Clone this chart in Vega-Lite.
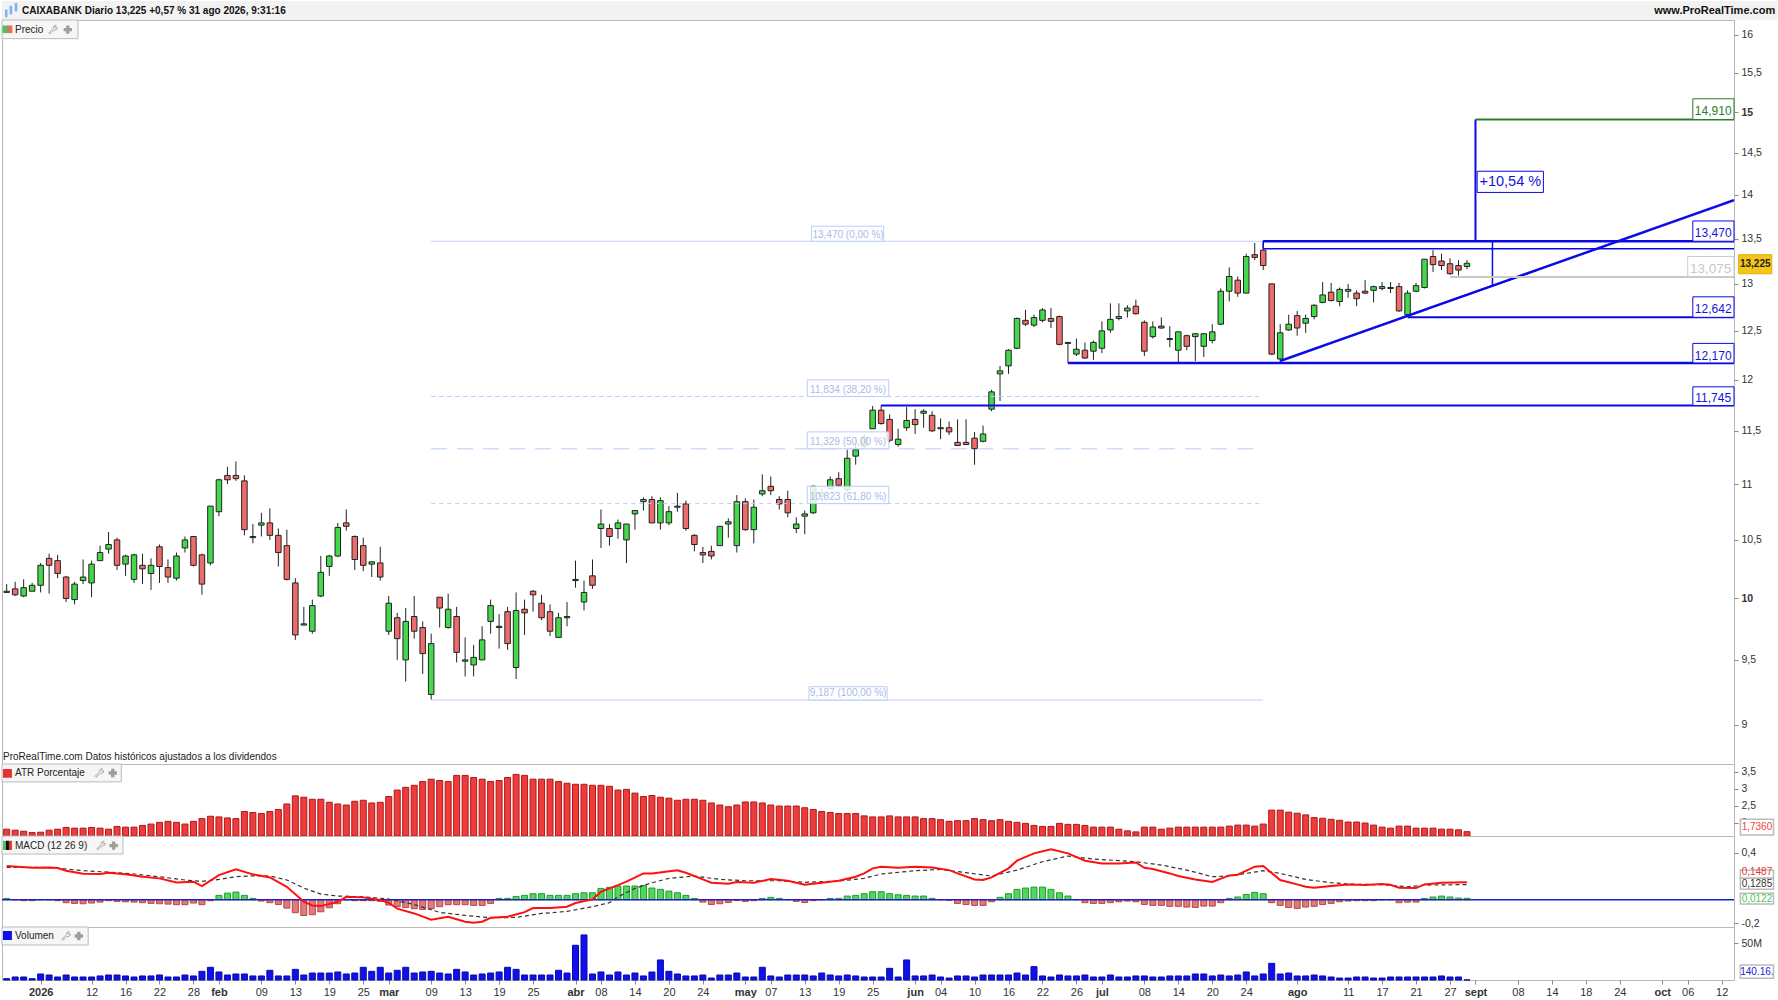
{"$schema":"https://vega.github.io/schema/vega-lite/v6.json","padding":0,"background":"white","spacing":0,"bounds":"flush","resolve":{"scale":{"color":"independent","fill":"independent","stroke":"independent","size":"independent","strokeWidth":"independent","strokeDash":"independent"}},
"config":{"font":"Liberation Sans","scale":{"continuousPadding":0},"view":{"stroke":"#b8b8b8"},"axis":{"grid":false,"domain":false,"tickColor":"#888888","tickSize":4,"labelColor":"#333333","labelFontSize":10.5,"labelPadding":3,"labelFont":"Liberation Sans","labelOverlap":false,"labelBound":false,"labelFlush":false}},
"datasets":{"bars":[
{"i":0,"o":10.05,"h":10.12,"l":10.05,"c":10.06,"a":1.81,"m":0.011,"v":1.8},
{"i":1,"o":10.08,"h":10.14,"l":10.02,"c":10.03,"a":1.78,"m":0,"v":4.1},
{"i":2,"o":10.02,"h":10.16,"l":10.01,"c":10.09,"a":1.75,"m":-0.008,"v":4.1},
{"i":3,"o":10.06,"h":10.13,"l":10.06,"c":10.11,"a":1.71,"m":-0.008,"v":1.8},
{"i":4,"o":10.11,"h":10.30,"l":10.05,"c":10.28,"a":1.72,"m":0,"v":8.2},
{"i":5,"o":10.34,"h":10.38,"l":10.04,"c":10.28,"a":1.78,"m":0,"v":6.8},
{"i":6,"o":10.32,"h":10.37,"l":10.17,"c":10.21,"a":1.81,"m":-0.008,"v":4.1},
{"i":7,"o":10.18,"h":10.19,"l":9.97,"c":10.00,"a":1.86,"m":-0.025,"v":6.8},
{"i":8,"o":9.99,"h":10.14,"l":9.95,"c":10.12,"a":1.84,"m":-0.031,"v":4.1},
{"i":9,"o":10.15,"h":10.33,"l":10.12,"c":10.18,"a":1.84,"m":-0.034,"v":4.1},
{"i":10,"o":10.13,"h":10.32,"l":10.01,"c":10.29,"a":1.86,"m":-0.028,"v":4.1},
{"i":11,"o":10.32,"h":10.45,"l":10.32,"c":10.39,"a":1.84,"m":-0.020,"v":5.5},
{"i":12,"o":10.42,"h":10.57,"l":10.38,"c":10.46,"a":1.81,"m":-0.008,"v":6.8},
{"i":13,"o":10.50,"h":10.52,"l":10.24,"c":10.28,"a":1.89,"m":-0.014,"v":6.8},
{"i":14,"o":10.29,"h":10.37,"l":10.19,"c":10.36,"a":1.87,"m":-0.017,"v":5.5},
{"i":15,"o":10.16,"h":10.38,"l":10.13,"c":10.37,"a":1.87,"m":-0.020,"v":4.1},
{"i":16,"o":10.28,"h":10.38,"l":10.12,"c":10.25,"a":1.92,"m":-0.025,"v":5.5},
{"i":17,"o":10.21,"h":10.34,"l":10.07,"c":10.28,"a":1.96,"m":-0.031,"v":5.5},
{"i":18,"o":10.44,"h":10.46,"l":10.13,"c":10.27,"a":2.01,"m":-0.034,"v":6.8},
{"i":19,"o":10.26,"h":10.33,"l":10.13,"c":10.18,"a":2.04,"m":-0.037,"v":4.1},
{"i":20,"o":10.17,"h":10.39,"l":10.15,"c":10.36,"a":2.01,"m":-0.042,"v":4.1},
{"i":21,"o":10.43,"h":10.53,"l":10.39,"c":10.50,"a":1.96,"m":-0.042,"v":6.8},
{"i":22,"o":10.53,"h":10.53,"l":10.27,"c":10.28,"a":2.04,"m":-0.028,"v":5.5},
{"i":23,"o":10.37,"h":10.38,"l":10.03,"c":10.12,"a":2.12,"m":-0.042,"v":11.8},
{"i":24,"o":10.30,"h":10.80,"l":10.28,"c":10.80,"a":2.19,"m":-0.008,"v":17.3},
{"i":25,"o":10.75,"h":11.05,"l":10.71,"c":11.04,"a":2.17,"m":0.037,"v":10.9},
{"i":26,"o":11.08,"h":11.16,"l":11.00,"c":11.04,"a":2.14,"m":0.056,"v":6.8},
{"i":27,"o":11.08,"h":11.21,"l":11.03,"c":11.05,"a":2.12,"m":0.065,"v":8.2},
{"i":28,"o":11.03,"h":11.08,"l":10.54,"c":10.59,"a":2.33,"m":0.037,"v":8.2},
{"i":29,"o":10.52,"h":10.64,"l":10.47,"c":10.53,"a":2.30,"m":0.011,"v":5.5},
{"i":30,"o":10.63,"h":10.74,"l":10.53,"c":10.65,"a":2.27,"m":-0.011,"v":5.5},
{"i":31,"o":10.65,"h":10.78,"l":10.50,"c":10.54,"a":2.33,"m":-0.025,"v":13.2},
{"i":32,"o":10.54,"h":10.60,"l":10.27,"c":10.39,"a":2.39,"m":-0.040,"v":5.5},
{"i":33,"o":10.45,"h":10.59,"l":10.15,"c":10.16,"a":2.55,"m":-0.071,"v":5.5},
{"i":34,"o":10.13,"h":10.17,"l":9.66,"c":9.70,"a":2.79,"m":-0.110,"v":14.5},
{"i":35,"o":9.78,"h":9.93,"l":9.78,"c":9.79,"a":2.75,"m":-0.133,"v":6.8},
{"i":36,"o":9.73,"h":9.99,"l":9.71,"c":9.94,"a":2.69,"m":-0.127,"v":9.5},
{"i":37,"o":10.02,"h":10.36,"l":10.01,"c":10.22,"a":2.69,"m":-0.102,"v":9.5},
{"i":38,"o":10.27,"h":10.37,"l":10.19,"c":10.36,"a":2.60,"m":-0.068,"v":9.5},
{"i":39,"o":10.36,"h":10.65,"l":10.35,"c":10.61,"a":2.55,"m":-0.034,"v":10.9},
{"i":40,"o":10.65,"h":10.77,"l":10.58,"c":10.62,"a":2.52,"m":0,"v":8.2},
{"i":41,"o":10.53,"h":10.54,"l":10.24,"c":10.33,"a":2.63,"m":-0.008,"v":9.5},
{"i":42,"o":10.45,"h":10.52,"l":10.23,"c":10.28,"a":2.66,"m":-0.008,"v":17.3},
{"i":43,"o":10.29,"h":10.31,"l":10.18,"c":10.31,"a":2.58,"m":-0.008,"v":11.8},
{"i":44,"o":10.30,"h":10.44,"l":10.15,"c":10.18,"a":2.60,"m":-0.014,"v":17.3},
{"i":45,"o":9.73,"h":10.02,"l":9.70,"c":9.96,"a":2.77,"m":-0.045,"v":9.5},
{"i":46,"o":9.84,"h":9.88,"l":9.50,"c":9.67,"a":2.96,"m":-0.059,"v":13.2},
{"i":47,"o":9.50,"h":9.92,"l":9.33,"c":9.81,"a":3.04,"m":-0.065,"v":17.3},
{"i":48,"o":9.85,"h":10.02,"l":9.67,"c":9.73,"a":3.10,"m":-0.076,"v":9.5},
{"i":49,"o":9.76,"h":9.81,"l":9.39,"c":9.55,"a":3.21,"m":-0.082,"v":10.9},
{"i":50,"o":9.23,"h":9.71,"l":9.19,"c":9.63,"a":3.28,"m":-0.076,"v":11.8},
{"i":51,"o":10.01,"h":10.01,"l":9.76,"c":9.92,"a":3.24,"m":-0.059,"v":9.5},
{"i":52,"o":9.76,"h":10.04,"l":9.75,"c":9.91,"a":3.21,"m":-0.042,"v":8.2},
{"i":53,"o":9.85,"h":9.93,"l":9.48,"c":9.56,"a":3.39,"m":-0.042,"v":14.5},
{"i":54,"o":9.49,"h":9.68,"l":9.37,"c":9.50,"a":3.39,"m":-0.042,"v":10.9},
{"i":55,"o":9.46,"h":9.62,"l":9.37,"c":9.52,"a":3.33,"m":-0.048,"v":6.8},
{"i":56,"o":9.50,"h":9.77,"l":9.50,"c":9.66,"a":3.28,"m":-0.048,"v":8.2},
{"i":57,"o":9.81,"h":9.99,"l":9.71,"c":9.94,"a":3.21,"m":-0.031,"v":9.5},
{"i":58,"o":9.76,"h":9.87,"l":9.59,"c":9.77,"a":3.24,"m":0.011,"v":10.9},
{"i":59,"o":9.89,"h":9.93,"l":9.58,"c":9.63,"a":3.33,"m":0.011,"v":17.3},
{"i":60,"o":9.44,"h":10.05,"l":9.35,"c":9.90,"a":3.42,"m":0.028,"v":14.5},
{"i":61,"o":9.91,"h":9.99,"l":9.70,"c":9.88,"a":3.39,"m":0.037,"v":6.8},
{"i":62,"o":10.06,"h":10.07,"l":9.89,"c":10.03,"a":3.28,"m":0.051,"v":6.8},
{"i":63,"o":9.96,"h":10.03,"l":9.82,"c":9.84,"a":3.28,"m":0.051,"v":6.8},
{"i":64,"o":9.89,"h":9.95,"l":9.69,"c":9.73,"a":3.28,"m":0.037,"v":6.8},
{"i":65,"o":9.68,"h":9.88,"l":9.68,"c":9.84,"a":3.21,"m":0.037,"v":13.2},
{"i":66,"o":9.84,"h":9.97,"l":9.77,"c":9.85,"a":3.16,"m":0.037,"v":9.5},
{"i":67,"o":10.15,"h":10.32,"l":10.09,"c":10.16,"a":3.13,"m":0.051,"v":47.3},
{"i":68,"o":9.97,"h":10.15,"l":9.90,"c":10.05,"a":3.13,"m":0.059,"v":61.4},
{"i":69,"o":10.19,"h":10.33,"l":10.08,"c":10.11,"a":3.10,"m":0.059,"v":8.2},
{"i":70,"o":10.60,"h":10.77,"l":10.43,"c":10.64,"a":3.10,"m":0.096,"v":10.9},
{"i":71,"o":10.60,"h":10.64,"l":10.45,"c":10.53,"a":3.07,"m":0.105,"v":6.8},
{"i":72,"o":10.60,"h":10.68,"l":10.51,"c":10.65,"a":2.96,"m":0.116,"v":10.9},
{"i":73,"o":10.50,"h":10.64,"l":10.30,"c":10.64,"a":2.98,"m":0.116,"v":6.8},
{"i":74,"o":10.73,"h":10.76,"l":10.59,"c":10.76,"a":2.87,"m":0.116,"v":9.5},
{"i":75,"o":10.84,"h":10.88,"l":10.76,"c":10.86,"a":2.77,"m":0.121,"v":5.5},
{"i":76,"o":10.86,"h":10.89,"l":10.65,"c":10.65,"a":2.80,"m":0.099,"v":10.9},
{"i":77,"o":10.65,"h":10.88,"l":10.59,"c":10.85,"a":2.75,"m":0.088,"v":27.3},
{"i":78,"o":10.65,"h":10.80,"l":10.63,"c":10.75,"a":2.72,"m":0.073,"v":11.8},
{"i":79,"o":10.79,"h":10.92,"l":10.75,"c":10.80,"a":2.66,"m":0.059,"v":8.2},
{"i":80,"o":10.82,"h":10.85,"l":10.58,"c":10.60,"a":2.69,"m":0.037,"v":5.5},
{"i":81,"o":10.54,"h":10.55,"l":10.40,"c":10.46,"a":2.69,"m":0.011,"v":5.5},
{"i":82,"o":10.39,"h":10.44,"l":10.30,"c":10.37,"a":2.66,"m":-0.020,"v":6.8},
{"i":83,"o":10.40,"h":10.45,"l":10.33,"c":10.36,"a":2.58,"m":-0.040,"v":2.7},
{"i":84,"o":10.45,"h":10.62,"l":10.45,"c":10.62,"a":2.52,"m":-0.034,"v":6.8},
{"i":85,"o":10.64,"h":10.69,"l":10.52,"c":10.66,"a":2.47,"m":-0.023,"v":6.8},
{"i":86,"o":10.45,"h":10.90,"l":10.39,"c":10.84,"a":2.52,"m":-0.006,"v":9.5},
{"i":87,"o":10.84,"h":10.87,"l":10.58,"c":10.59,"a":2.61,"m":-0.014,"v":4.1},
{"i":88,"o":10.59,"h":10.86,"l":10.47,"c":10.79,"a":2.61,"m":-0.008,"v":4.1},
{"i":89,"o":10.91,"h":11.09,"l":10.89,"c":10.94,"a":2.58,"m":0.011,"v":17.3},
{"i":90,"o":10.98,"h":11.07,"l":10.90,"c":10.94,"a":2.52,"m":0.020,"v":5.5},
{"i":91,"o":10.86,"h":10.89,"l":10.77,"c":10.82,"a":2.49,"m":0.011,"v":4.1},
{"i":92,"o":10.86,"h":10.94,"l":10.70,"c":10.74,"a":2.49,"m":0,"v":6.8},
{"i":93,"o":10.60,"h":10.70,"l":10.56,"c":10.64,"a":2.49,"m":-0.014,"v":6.8},
{"i":94,"o":10.71,"h":10.76,"l":10.55,"c":10.73,"a":2.44,"m":-0.023,"v":6.8},
{"i":95,"o":10.74,"h":10.99,"l":10.73,"c":10.98,"a":2.39,"m":-0.008,"v":5.5},
{"i":96,"o":10.89,"h":10.96,"l":10.85,"c":10.92,"a":2.33,"m":0,"v":9.5},
{"i":97,"o":10.96,"h":11.07,"l":10.95,"c":11.04,"a":2.30,"m":0.011,"v":6.8},
{"i":98,"o":11.05,"h":11.11,"l":10.97,"c":10.99,"a":2.27,"m":0.011,"v":5.5},
{"i":99,"o":10.95,"h":11.32,"l":10.93,"c":11.24,"a":2.27,"m":0.031,"v":6.8},
{"i":100,"o":11.26,"h":11.44,"l":11.18,"c":11.32,"a":2.27,"m":0.037,"v":5.5},
{"i":101,"o":11.35,"h":11.47,"l":11.33,"c":11.44,"a":2.20,"m":0.051,"v":4.1},
{"i":102,"o":11.52,"h":11.74,"l":11.52,"c":11.70,"a":2.17,"m":0.068,"v":4.1},
{"i":103,"o":11.70,"h":11.75,"l":11.56,"c":11.57,"a":2.17,"m":0.068,"v":4.1},
{"i":104,"o":11.61,"h":11.66,"l":11.39,"c":11.41,"a":2.20,"m":0.051,"v":15.9},
{"i":105,"o":11.37,"h":11.52,"l":11.35,"c":11.42,"a":2.17,"m":0.042,"v":4.1},
{"i":106,"o":11.53,"h":11.73,"l":11.50,"c":11.60,"a":2.17,"m":0.037,"v":27.3},
{"i":107,"o":11.61,"h":11.71,"l":11.47,"c":11.56,"a":2.17,"m":0.031,"v":5.5},
{"i":108,"o":11.67,"h":11.71,"l":11.53,"c":11.69,"a":2.12,"m":0.031,"v":5.5},
{"i":109,"o":11.65,"h":11.69,"l":11.49,"c":11.50,"a":2.12,"m":0.011,"v":6.8},
{"i":110,"o":11.52,"h":11.62,"l":11.42,"c":11.53,"a":2.09,"m":0,"v":4.1},
{"i":111,"o":11.53,"h":11.59,"l":11.46,"c":11.49,"a":2.04,"m":-0.006,"v":2.7},
{"i":112,"o":11.39,"h":11.61,"l":11.36,"c":11.36,"a":2.06,"m":-0.031,"v":5.5},
{"i":113,"o":11.39,"h":11.61,"l":11.37,"c":11.37,"a":2.06,"m":-0.040,"v":5.5},
{"i":114,"o":11.43,"h":11.49,"l":11.18,"c":11.33,"a":2.12,"m":-0.048,"v":4.1},
{"i":115,"o":11.40,"h":11.55,"l":11.39,"c":11.47,"a":2.09,"m":-0.048,"v":6.8},
{"i":116,"o":11.71,"h":11.90,"l":11.69,"c":11.88,"a":2.06,"m":-0.017,"v":6.8},
{"i":117,"o":12.06,"h":12.14,"l":11.79,"c":12.09,"a":2.09,"m":0.020,"v":6.8},
{"i":118,"o":12.14,"h":12.31,"l":12.06,"c":12.30,"a":2.04,"m":0.051,"v":6.8},
{"i":119,"o":12.32,"h":12.64,"l":12.31,"c":12.63,"a":2.01,"m":0.088,"v":9.5},
{"i":120,"o":12.61,"h":12.72,"l":12.55,"c":12.57,"a":1.98,"m":0.099,"v":6.8},
{"i":121,"o":12.56,"h":12.67,"l":12.54,"c":12.64,"a":1.92,"m":0.107,"v":18.2},
{"i":122,"o":12.61,"h":12.74,"l":12.59,"c":12.72,"a":1.89,"m":0.107,"v":5.5},
{"i":123,"o":12.63,"h":12.74,"l":12.53,"c":12.60,"a":1.89,"m":0.088,"v":4.1},
{"i":124,"o":12.65,"h":12.66,"l":12.35,"c":12.36,"a":1.98,"m":0.059,"v":6.8},
{"i":125,"o":12.37,"h":12.38,"l":12.17,"c":12.38,"a":1.95,"m":0.031,"v":5.5},
{"i":126,"o":12.26,"h":12.42,"l":12.24,"c":12.31,"a":1.95,"m":0,"v":5.5},
{"i":127,"o":12.30,"h":12.38,"l":12.21,"c":12.22,"a":1.92,"m":-0.025,"v":6.8},
{"i":128,"o":12.29,"h":12.40,"l":12.20,"c":12.38,"a":1.87,"m":-0.031,"v":4.1},
{"i":129,"o":12.32,"h":12.60,"l":12.27,"c":12.50,"a":1.87,"m":-0.031,"v":4.1},
{"i":130,"o":12.51,"h":12.79,"l":12.48,"c":12.62,"a":1.87,"m":-0.025,"v":6.8},
{"i":131,"o":12.63,"h":12.79,"l":12.61,"c":12.65,"a":1.81,"m":-0.017,"v":4.1},
{"i":132,"o":12.71,"h":12.77,"l":12.64,"c":12.74,"a":1.76,"m":-0.011,"v":4.1},
{"i":133,"o":12.76,"h":12.83,"l":12.67,"c":12.68,"a":1.73,"m":-0.017,"v":5.5},
{"i":134,"o":12.59,"h":12.61,"l":12.24,"c":12.29,"a":1.87,"m":-0.040,"v":5.5},
{"i":135,"o":12.44,"h":12.60,"l":12.42,"c":12.54,"a":1.87,"m":-0.048,"v":4.1},
{"i":136,"o":12.55,"h":12.64,"l":12.52,"c":12.53,"a":1.81,"m":-0.048,"v":4.1},
{"i":137,"o":12.41,"h":12.55,"l":12.33,"c":12.42,"a":1.84,"m":-0.056,"v":5.5},
{"i":138,"o":12.30,"h":12.49,"l":12.16,"c":12.49,"a":1.87,"m":-0.056,"v":5.5},
{"i":139,"o":12.45,"h":12.46,"l":12.30,"c":12.34,"a":1.87,"m":-0.062,"v":5.5},
{"i":140,"o":12.44,"h":12.47,"l":12.19,"c":12.47,"a":1.87,"m":-0.065,"v":8.2},
{"i":141,"o":12.34,"h":12.47,"l":12.23,"c":12.47,"a":1.87,"m":-0.054,"v":8.2},
{"i":142,"o":12.40,"h":12.57,"l":12.37,"c":12.49,"a":1.87,"m":-0.054,"v":5.5},
{"i":143,"o":12.57,"h":12.95,"l":12.56,"c":12.92,"a":1.87,"m":-0.025,"v":6.8},
{"i":144,"o":12.92,"h":13.18,"l":12.81,"c":13.08,"a":1.90,"m":0.011,"v":5.5},
{"i":145,"o":13.04,"h":13.08,"l":12.86,"c":12.90,"a":1.93,"m":0.023,"v":6.8},
{"i":146,"o":12.90,"h":13.33,"l":12.90,"c":13.30,"a":1.93,"m":0.045,"v":10.9},
{"i":147,"o":13.32,"h":13.45,"l":13.26,"c":13.29,"a":1.90,"m":0.062,"v":5.5},
{"i":148,"o":13.37,"h":13.48,"l":13.15,"c":13.20,"a":1.96,"m":0.051,"v":8.2},
{"i":149,"o":13.00,"h":13.00,"l":12.25,"c":12.26,"a":2.37,"m":-0.025,"v":22.7},
{"i":150,"o":12.21,"h":12.57,"l":12.18,"c":12.48,"a":2.37,"m":-0.048,"v":8.2},
{"i":151,"o":12.51,"h":12.67,"l":12.50,"c":12.57,"a":2.31,"m":-0.065,"v":9.5},
{"i":152,"o":12.66,"h":12.71,"l":12.45,"c":12.53,"a":2.28,"m":-0.073,"v":5.5},
{"i":153,"o":12.58,"h":12.67,"l":12.48,"c":12.63,"a":2.23,"m":-0.062,"v":5.5},
{"i":154,"o":12.65,"h":12.78,"l":12.62,"c":12.77,"a":2.15,"m":-0.056,"v":6.8},
{"i":155,"o":12.80,"h":13.02,"l":12.79,"c":12.88,"a":2.13,"m":-0.040,"v":5.5},
{"i":156,"o":12.91,"h":13.01,"l":12.81,"c":12.82,"a":2.10,"m":-0.031,"v":4.1},
{"i":157,"o":12.81,"h":12.96,"l":12.76,"c":12.94,"a":2.07,"m":-0.017,"v":2.7},
{"i":158,"o":12.92,"h":13.00,"l":12.85,"c":12.94,"a":2.02,"m":-0.011,"v":2.7},
{"i":159,"o":12.90,"h":12.93,"l":12.76,"c":12.84,"a":2.02,"m":-0.008,"v":4.1},
{"i":160,"o":12.92,"h":13.04,"l":12.89,"c":12.90,"a":1.99,"m":-0.008,"v":4.1},
{"i":161,"o":12.93,"h":12.98,"l":12.80,"c":12.97,"a":1.93,"m":-0.008,"v":2.7},
{"i":162,"o":12.95,"h":13.02,"l":12.93,"c":12.97,"a":1.87,"m":0,"v":2.7},
{"i":163,"o":12.95,"h":13.02,"l":12.90,"c":12.96,"a":1.84,"m":0,"v":4.1},
{"i":164,"o":12.97,"h":13.01,"l":12.70,"c":12.71,"a":1.90,"m":-0.025,"v":4.1},
{"i":165,"o":12.67,"h":12.93,"l":12.65,"c":12.90,"a":1.90,"m":-0.020,"v":4.1},
{"i":166,"o":12.92,"h":13.01,"l":12.91,"c":12.98,"a":1.84,"m":-0.020,"v":4.1},
{"i":167,"o":12.96,"h":13.27,"l":12.95,"c":13.27,"a":1.84,"m":0.011,"v":4.1},
{"i":168,"o":13.30,"h":13.37,"l":13.13,"c":13.21,"a":1.84,"m":0.023,"v":4.1},
{"i":169,"o":13.25,"h":13.33,"l":13.15,"c":13.20,"a":1.81,"m":0.031,"v":5.5},
{"i":170,"o":13.22,"h":13.28,"l":13.10,"c":13.11,"a":1.81,"m":0.023,"v":4.1},
{"i":171,"o":13.20,"h":13.26,"l":13.09,"c":13.15,"a":1.79,"m":0.014,"v":4.1},
{"i":172,"o":13.19,"h":13.26,"l":13.16,"c":13.225,"a":1.736,"m":0.0122,"v":0.14}
],
"macd":[{"i":0,"y":0.285},{"i":3,"y":0.271},{"i":5,"y":0.274},{"i":6,"y":0.268},{"i":7,"y":0.246},{"i":9,"y":0.220},{"i":11,"y":0.218},{"i":12,"y":0.229},{"i":14,"y":0.215},{"i":16,"y":0.195},{"i":18,"y":0.181},{"i":20,"y":0.147},{"i":22,"y":0.153},{"i":23,"y":0.116},{"i":25,"y":0.209},{"i":27,"y":0.257},{"i":29,"y":0.215},{"i":31,"y":0.189},{"i":33,"y":0.110},{"i":35,"y":-0.017},{"i":36,"y":-0.048},{"i":37,"y":-0.054},{"i":39,"y":-0.017},{"i":40,"y":0.025},{"i":42,"y":0.020},{"i":44,"y":-0.003},{"i":45,"y":-0.025},{"i":46,"y":-0.076},{"i":48,"y":-0.116},{"i":50,"y":-0.169},{"i":52,"y":-0.144},{"i":54,"y":-0.186},{"i":55,"y":-0.195},{"i":56,"y":-0.186},{"i":57,"y":-0.153},{"i":59,"y":-0.144},{"i":61,"y":-0.105},{"i":62,"y":-0.071},{"i":64,"y":-0.071},{"i":66,"y":-0.059},{"i":67,"y":-0.028},{"i":69,"y":0.003},{"i":70,"y":0.068},{"i":72,"y":0.124},{"i":73,"y":0.153},{"i":75,"y":0.223},{"i":76,"y":0.223},{"i":79,"y":0.249},{"i":80,"y":0.229},{"i":82,"y":0.172},{"i":83,"y":0.144},{"i":85,"y":0.136},{"i":86,"y":0.150},{"i":88,"y":0.144},{"i":90,"y":0.175},{"i":92,"y":0.161},{"i":94,"y":0.127},{"i":96,"y":0.144},{"i":98,"y":0.161},{"i":100,"y":0.195},{"i":101,"y":0.223},{"i":102,"y":0.266},{"i":103,"y":0.280},{"i":105,"y":0.271},{"i":107,"y":0.280},{"i":109,"y":0.274},{"i":111,"y":0.251},{"i":112,"y":0.223},{"i":114,"y":0.172},{"i":115,"y":0.167},{"i":116,"y":0.189},{"i":118,"y":0.266},{"i":119,"y":0.331},{"i":121,"y":0.393},{"i":123,"y":0.427},{"i":125,"y":0.393},{"i":127,"y":0.331},{"i":129,"y":0.308},{"i":131,"y":0.308},{"i":133,"y":0.316},{"i":134,"y":0.271},{"i":135,"y":0.260},{"i":137,"y":0.223},{"i":138,"y":0.201},{"i":140,"y":0.172},{"i":142,"y":0.150},{"i":144,"y":0.206},{"i":145,"y":0.212},{"i":147,"y":0.280},{"i":148,"y":0.285},{"i":150,"y":0.167},{"i":152,"y":0.130},{"i":153,"y":0.110},{"i":154,"y":0.102},{"i":156,"y":0.116},{"i":158,"y":0.130},{"i":160,"y":0.124},{"i":162,"y":0.133},{"i":163,"y":0.127},{"i":164,"y":0.102},{"i":166,"y":0.099},{"i":167,"y":0.130},{"i":169,"y":0.144},{"i":172,"y":0.1487}],
"signal":[{"i":0,"y":0.274},{"i":3,"y":0.274},{"i":6,"y":0.268},{"i":9,"y":0.246},{"i":12,"y":0.234},{"i":15,"y":0.218},{"i":18,"y":0.195},{"i":21,"y":0.167},{"i":23,"y":0.155},{"i":25,"y":0.172},{"i":27,"y":0.195},{"i":29,"y":0.203},{"i":31,"y":0.201},{"i":33,"y":0.167},{"i":35,"y":0.099},{"i":37,"y":0.048},{"i":39,"y":0.031},{"i":42,"y":0.025},{"i":45,"y":0.006},{"i":48,"y":-0.040},{"i":51,"y":-0.107},{"i":54,"y":-0.133},{"i":57,"y":-0.153},{"i":60,"y":-0.150},{"i":63,"y":-0.116},{"i":66,"y":-0.099},{"i":69,"y":-0.059},{"i":71,"y":-0.025},{"i":72,"y":0.025},{"i":74,"y":0.096},{"i":76,"y":0.144},{"i":78,"y":0.181},{"i":81,"y":0.201},{"i":84,"y":0.172},{"i":87,"y":0.161},{"i":91,"y":0.161},{"i":94,"y":0.147},{"i":98,"y":0.158},{"i":101,"y":0.181},{"i":103,"y":0.218},{"i":107,"y":0.246},{"i":110,"y":0.257},{"i":113,"y":0.229},{"i":116,"y":0.201},{"i":119,"y":0.251},{"i":122,"y":0.322},{"i":125,"y":0.370},{"i":128,"y":0.345},{"i":133,"y":0.322},{"i":136,"y":0.294},{"i":139,"y":0.251},{"i":142,"y":0.195},{"i":144,"y":0.201},{"i":148,"y":0.246},{"i":150,"y":0.223},{"i":153,"y":0.172},{"i":156,"y":0.144},{"i":158,"y":0.133},{"i":162,"y":0.127},{"i":165,"y":0.110},{"i":167,"y":0.124},{"i":172,"y":0.1285}]
},
"vconcat":[
{"width":1732,"height":19,"layer":[
 {"data":{"values":[{"x0":-0.55,"x1":208.6,"y0":0,"y1":1}]},"mark":{"type":"rect","fill":"#f2f2f2","stroke":null},"encoding":{"x":{"field":"x0","type":"quantitative","axis":null,"scale":{"domain":[-0.55,203.45],"nice":false,"zero":false}},"x2":{"field":"x1"},"y":{"field":"y0","type":"quantitative","axis":null,"scale":{"domain":[0,1]}},"y2":{"field":"y1"}}},
 {"data":{"values":[{"x0":-0.2,"x1":0.1,"y0":0.15,"y1":0.55},{"x0":0.35,"x1":0.65,"y0":0.3,"y1":0.75},{"x0":0.95,"x1":1.25,"y0":0.45,"y1":0.9}]},"mark":{"type":"rect","fill":"#7fb2ee"},"encoding":{"x":{"field":"x0","type":"quantitative","axis":null,"scale":{"domain":[-0.55,203.45],"nice":false,"zero":false}},"x2":{"field":"x1"},"y":{"field":"y0","type":"quantitative","axis":null,"scale":{"domain":[0,1]}},"y2":{"field":"y1"}}},
 {"data":{"values":[{"x":1.8,"y":0.5,"t":"CAIXABANK Diario 13,225 +0,57 % 31 ago 2026, 9:31:16"}]},"mark":{"type":"text","align":"left","baseline":"middle","fontWeight":"bold","fontSize":10,"color":"#111111"},"encoding":{"x":{"field":"x","type":"quantitative","axis":null,"scale":{"domain":[-0.55,203.45],"nice":false,"zero":false}},"y":{"field":"y","type":"quantitative","axis":null,"scale":{"domain":[0,1]}},"text":{"field":"t"}}},
 {"data":{"values":[{"x":208.3,"y":0.5,"t":"www.ProRealTime.com"}]},"mark":{"type":"text","align":"right","baseline":"middle","fontWeight":"bold","fontSize":11,"color":"#111111"},"encoding":{"x":{"field":"x","type":"quantitative","axis":null,"scale":{"domain":[-0.55,203.45],"nice":false,"zero":false}},"y":{"field":"y","type":"quantitative","axis":null,"scale":{"domain":[0,1]}},"text":{"field":"t"}}}
]},
{"width":1732,"height":744,"layer":[
 {"data":{"name":"bars"},"mark":{"type":"rule","color":"#222222","strokeWidth":1},"encoding":{"x":{"field":"i","type":"quantitative","axis":null,"scale":{"domain":[-0.55,203.45],"nice":false,"zero":false}},"y":{"field":"l","type":"quantitative","scale":{"type":"log","domain":[8.71,16.20],"nice":false,"zero":false},"axis":{"title":null,"orient":"right","tickCount":100,"values":[9,9.5,10,10.5,11,11.5,12,12.5,13,13.5,14,14.5,15,15.5,16],"labelExpr":"replace(''+datum.value,'.',',')","labelFontWeight":{"condition":{"test":"datum.value==10||datum.value==15","value":"bold"},"value":"normal"}}},"y2":{"field":"h"}}},
 {"data":{"name":"bars"},"mark":{"type":"bar","size":5.5,"stroke":"#222222","strokeWidth":1},"encoding":{"x":{"field":"i","type":"quantitative","axis":null,"scale":{"domain":[-0.55,203.45],"nice":false,"zero":false}},"y":{"field":"o","type":"quantitative","scale":{"type":"log","domain":[8.71,16.20],"nice":false,"zero":false}},"y2":{"field":"c"},"fill":{"condition":{"test":"datum.c>=datum.o","value":"#44d84c"},"value":"#ee6b6b"}}},
 {"data":{"values":[
  {"x0":50,"x1":148,"p0":13.47,"p1":13.47,"k":"fib0"},{"x0":50,"x1":148,"p0":11.834,"p1":11.834,"k":"fib1"},{"x0":50,"x1":148,"p0":11.329,"p1":11.329,"k":"fib2"},{"x0":50,"x1":148,"p0":10.823,"p1":10.823,"k":"fib1"},{"x0":50,"x1":148,"p0":9.187,"p1":9.187,"k":"fib0"},
  {"x0":103,"x1":203.45,"p0":11.745,"p1":11.745,"k":"m"},{"x0":125,"x1":203.45,"p0":12.17,"p1":12.17,"k":"h"},{"x0":165,"x1":203.45,"p0":12.642,"p1":12.642,"k":"m"},{"x0":148,"x1":203.45,"p0":13.47,"p1":13.47,"k":"h"},{"x0":148,"x1":203.45,"p0":13.385,"p1":13.385,"k":"t"},{"x0":148,"x1":148,"p0":13.385,"p1":13.47,"k":"t"},
  {"x0":150,"x1":203.45,"p0":12.19,"p1":13.94,"k":"h"},{"x0":173,"x1":173,"p0":13.47,"p1":14.91,"k":"m"},{"x0":175,"x1":175,"p0":13.47,"p1":12.97,"k":"t"},{"x0":173,"x1":203.45,"p0":14.91,"p1":14.91,"k":"g"},{"x0":170,"x1":203.45,"p0":13.075,"p1":13.075,"k":"n"}]},
  "mark":{"type":"rule"},"encoding":{"x":{"field":"x0","type":"quantitative","axis":null,"scale":{"domain":[-0.55,203.45],"nice":false,"zero":false}},"x2":{"field":"x1"},"y":{"field":"p0","type":"quantitative","scale":{"type":"log","domain":[8.71,16.20],"nice":false,"zero":false}},"y2":{"field":"p1"},
  "color":{"field":"k","legend":null,"scale":{"domain":["fib0","fib1","fib2","m","h","t","g","n","f","b","l"],"range":["#b9ccff","#b9ccff","#b9ccff","#0a0ae6","#0a0ae6","#0a0ae6","#2a7d2a","#c8c8c8","#a9bbe8","#1414dd","#1414dd"]}},
  "strokeWidth":{"field":"k","legend":null,"scale":{"type":"ordinal","domain":["fib0","fib1","fib2","m","h","t","g","n"],"range":[1,1,1,2,2.5,1.5,2,2]}},
  "strokeDash":{"field":"k","legend":null,"scale":{"domain":["fib0","fib1","fib2","m","h","t","g","n"],"range":[[1,0],[4,4],[16,10],[1,0],[1,0],[1,0],[1,0],[1,0]]}}}},
 {"data":{"values":[
  {"x0":94.8,"x1":103.3,"p0":13.47,"p1":13.64,"k":"fb"},{"x0":94.3,"x1":103.9,"p0":11.834,"p1":12.00,"k":"fb"},{"x0":94.3,"x1":103.9,"p0":11.329,"p1":11.49,"k":"fb"},{"x0":94.3,"x1":103.9,"p0":10.823,"p1":10.98,"k":"fb"},{"x0":94.5,"x1":103.7,"p0":9.187,"p1":9.29,"k":"fb"},
  {"x0":198.6,"x1":203.45,"p0":14.91,"p1":15.17,"k":"gb"},{"x0":198.6,"x1":203.45,"p0":13.47,"p1":13.70,"k":"lv"},{"x0":198.6,"x1":203.45,"p0":12.642,"p1":12.86,"k":"lv"},{"x0":198.6,"x1":203.45,"p0":12.17,"p1":12.37,"k":"lv"},{"x0":198.6,"x1":203.45,"p0":11.745,"p1":11.93,"k":"lv"},{"x0":198,"x1":203.45,"p0":13.08,"p1":13.30,"k":"nb"},{"x0":173.2,"x1":181,"p0":14.03,"p1":14.28,"k":"lv"},{"x0":204,"x1":207.9,"p0":13.11,"p1":13.32,"k":"yb"},
  {"x0":-0.55,"x1":8.4,"p0":15.95,"p1":16.20,"k":"tag"},{"x0":-0.44,"x1":0.1,"p0":16.03,"p1":16.12,"k":"sg"},{"x0":0.1,"x1":0.62,"p0":16.03,"p1":16.12,"k":"sr"}]},
  "mark":{"type":"rect","strokeWidth":1},"encoding":{"x":{"field":"x0","type":"quantitative","axis":null,"scale":{"domain":[-0.55,203.45],"nice":false,"zero":false}},"x2":{"field":"x1"},"y":{"field":"p0","type":"quantitative","scale":{"type":"log","domain":[8.71,16.20],"nice":false,"zero":false}},"y2":{"field":"p1"},
  "fill":{"field":"k","legend":null,"scale":{"domain":["fb","gb","lv","nb","yb","tag","sg","sr"],"range":["#ffffffd8","#ffffff","#ffffff","#ffffff","#f5c518","#f6f6f6","#44c85a","#e86a6a"]}},
  "stroke":{"field":"k","legend":null,"scale":{"domain":["fb","gb","lv","nb","yb","tag","sg","sr"],"range":["#b9ccff","#2a7d2a","#0a0ae6","#cccccc","#e0b000","#bbbbbb","#44c85a","#e86a6a"]}}}},
 {"data":{"values":[
  {"x":99.1,"p":13.54,"t":"13,470 (0,00 %)","k":"f"},{"x":99.1,"p":11.90,"t":"11,834 (38,20 %)","k":"f"},{"x":99.1,"p":11.39,"t":"11,329 (50,00 %)","k":"f"},{"x":99.1,"p":10.88,"t":"10,823 (61,80 %)","k":"f"},{"x":99.1,"p":9.24,"t":"9,187 (100,00 %)","k":"f"},
  {"x":201,"p":15.01,"t":"14,910","k":"g"},{"x":201,"p":13.56,"t":"13,470","k":"b"},{"x":201,"p":12.725,"t":"12,642","k":"b"},{"x":201,"p":12.245,"t":"12,170","k":"b"},{"x":201,"p":11.82,"t":"11,745","k":"b"},{"x":200.7,"p":13.165,"t":"13,075","k":"n"},{"x":177.1,"p":14.155,"t":"+10,54 %","k":"l"}]},
  "mark":{"type":"text","align":"center","baseline":"middle"},"encoding":{"x":{"field":"x","type":"quantitative","axis":null,"scale":{"domain":[-0.55,203.45],"nice":false,"zero":false}},"y":{"field":"p","type":"quantitative","scale":{"type":"log","domain":[8.71,16.20],"nice":false,"zero":false}},"text":{"field":"t"},
  "color":{"field":"k","legend":null,"scale":{"domain":["fib0","fib1","fib2","m","h","t","g","n","f","b","l"],"range":["#b9ccff","#b9ccff","#b9ccff","#0a0ae6","#0a0ae6","#0a0ae6","#2a7d2a","#b4b4b4","#a9bbe8","#1414dd","#1414dd"]}},
  "size":{"field":"k","legend":null,"scale":{"type":"ordinal","domain":["f","g","b","n","l"],"range":[10,12,12,13.5,14.5]}}}},
 {"data":{"values":[{"x":205.95,"p":13.215,"t":"13,225"}]},"mark":{"type":"text","align":"center","baseline":"middle","fontWeight":"bold","fontSize":10,"color":"#222222"},"encoding":{"x":{"field":"x","type":"quantitative","axis":null,"scale":{"domain":[-0.55,203.45],"nice":false,"zero":false}},"y":{"field":"p","type":"quantitative","scale":{"type":"log","domain":[8.71,16.20],"nice":false,"zero":false}},"text":{"field":"t"}}},
 {"data":{"values":[{"x":0.98,"p":16.07,"t":"Precio"},{"x":-0.43,"p":8.76,"t":"ProRealTime.com  Datos históricos ajustados a los dividendos"}]},"mark":{"type":"text","align":"left","baseline":"middle","fontSize":10,"color":"#222222"},"encoding":{"x":{"field":"x","type":"quantitative","axis":null,"scale":{"domain":[-0.55,203.45],"nice":false,"zero":false}},"y":{"field":"p","type":"quantitative","scale":{"type":"log","domain":[8.71,16.20],"nice":false,"zero":false}},"text":{"field":"t"}}},
 {"data":{"values":[{"x":5.45,"p":16.07}]},"mark":{"type":"point","shape":"M-0.45,0.35 L0.05,-0.15 C0,-0.35 0.15,-0.5 0.35,-0.45 L0.2,-0.3 L0.3,-0.15 L0.45,-0.25 C0.5,-0.05 0.3,0.1 0.1,0.05 L-0.35,0.45 Z","size":350,"stroke":"#888888","strokeWidth":1,"filled":false},"encoding":{"x":{"field":"x","type":"quantitative","axis":null,"scale":{"domain":[-0.55,203.45],"nice":false,"zero":false}},"y":{"field":"p","type":"quantitative","scale":{"type":"log","domain":[8.71,16.20],"nice":false,"zero":false}}}},
 {"data":{"values":[{"x":7.2,"p":16.07}]},"mark":{"type":"point","shape":"cross","size":70,"fill":"#777777","stroke":null,"filled":true},"encoding":{"x":{"field":"x","type":"quantitative","axis":null,"scale":{"domain":[-0.55,203.45],"nice":false,"zero":false}},"y":{"field":"p","type":"quantitative","scale":{"type":"log","domain":[8.71,16.20],"nice":false,"zero":false}}}}
]},
{"width":1732,"height":72,"encoding":{"x":{"field":"x","type":"quantitative","axis":null,"scale":{"domain":[-0.55,203.45],"nice":false,"zero":false}}},"layer":[
 {"data":{"name":"bars"},"mark":{"type":"bar","size":6,"fill":"#ee3c3c","stroke":"#b01818","strokeWidth":1},"encoding":{"x":{"field":"i","type":"quantitative","axis":null,"scale":{"domain":[-0.55,203.45],"nice":false,"zero":false}},"y":{"field":"a","type":"quantitative","scale":{"domain":[1.609,3.726],"nice":false,"zero":false},"axis":{"title":null,"orient":"right","tickCount":100,"values":[2,2.5,3,3.5],"labelExpr":"replace(''+datum.value,'.',',')"}},"y2":{"datum":1.609}}},
 {"data":{"values":[{"x":-0.55,"x1":13.5,"y0":3.20,"y1":3.726}]},"mark":{"type":"rect","fill":"#f6f6f6","stroke":"#bbbbbb"},"encoding":{"x2":{"field":"x1"},"y":{"field":"y0","type":"quantitative"},"y2":{"field":"y1"}}},
 {"data":{"values":[{"x":-0.44,"x1":0.62,"y0":3.32,"y1":3.58}]},"mark":{"type":"rect","fill":"#e83030"},"encoding":{"x2":{"field":"x1"},"y":{"field":"y0","type":"quantitative"},"y2":{"field":"y1"}}},
 {"data":{"values":[{"x":0.98,"y":3.46,"t":"ATR Porcentaje"}]},"mark":{"type":"text","align":"left","baseline":"middle","fontSize":10,"color":"#222222"},"encoding":{"y":{"field":"y","type":"quantitative"},"text":{"field":"t"}}},
 {"data":{"values":[{"x":10.9,"y":3.46}]},"mark":{"type":"point","shape":"M-0.45,0.35 L0.05,-0.15 C0,-0.35 0.15,-0.5 0.35,-0.45 L0.2,-0.3 L0.3,-0.15 L0.45,-0.25 C0.5,-0.05 0.3,0.1 0.1,0.05 L-0.35,0.45 Z","size":350,"stroke":"#888888","strokeWidth":1,"filled":false},"encoding":{"y":{"field":"y","type":"quantitative"}}},
 {"data":{"values":[{"x":12.5,"y":3.46}]},"mark":{"type":"point","shape":"cross","size":70,"fill":"#777777","stroke":null,"filled":true},"encoding":{"y":{"field":"y","type":"quantitative"}}},
 {"data":{"values":[{"x":204.2,"x1":208.1,"y0":1.64,"y1":2.10}]},"mark":{"type":"rect","fill":"#ffffff","stroke":"#bbbbbb","strokeWidth":1.5},"encoding":{"x2":{"field":"x1"},"y":{"field":"y0","type":"quantitative"},"y2":{"field":"y1"}}},
 {"data":{"values":[{"x":206.15,"y":1.87,"t":"1,7360"}]},"mark":{"type":"text","align":"center","baseline":"middle","fontSize":10,"color":"#ee4444"},"encoding":{"y":{"field":"y","type":"quantitative"},"text":{"field":"t"}}}
]},
{"width":1732,"height":91,"encoding":{"x":{"field":"x","type":"quantitative","axis":null,"scale":{"domain":[-0.55,203.45],"nice":false,"zero":false}}},"layer":[
 {"data":{"name":"bars"},"mark":{"type":"bar","size":6,"strokeWidth":1},"encoding":{"x":{"field":"i","type":"quantitative","axis":null,"scale":{"domain":[-0.55,203.45],"nice":false,"zero":false}},"y":{"field":"m","type":"quantitative","scale":{"domain":[-0.231,0.54],"nice":false,"zero":false},"axis":{"title":null,"orient":"right","tickCount":100,"values":[-0.2,0.4],"labelExpr":"replace(''+datum.value,'.',',')"}},"y2":{"datum":0},"fill":{"condition":{"test":"datum.m>=0","value":"#4fd85a"},"value":"#e57878"},"stroke":{"condition":{"test":"datum.m>=0","value":"#239a30"},"value":"#b04848"}}},
 {"data":{"values":[{"x0":-0.55,"x1":203.45,"y":0}]},"mark":{"type":"rule","color":"#2222bb","strokeWidth":1.5},"encoding":{"x":{"field":"x0","type":"quantitative","axis":null,"scale":{"domain":[-0.55,203.45],"nice":false,"zero":false}},"x2":{"field":"x1"},"y":{"field":"y","type":"quantitative"}}},
 {"data":{"name":"signal"},"mark":{"type":"line","color":"#333333","strokeWidth":1.2,"strokeDash":[4,3]},"encoding":{"x":{"field":"i","type":"quantitative","axis":null,"scale":{"domain":[-0.55,203.45],"nice":false,"zero":false}},"y":{"field":"y","type":"quantitative"}}},
 {"data":{"name":"macd"},"mark":{"type":"line","color":"#ff1010","strokeWidth":2},"encoding":{"x":{"field":"i","type":"quantitative","axis":null,"scale":{"domain":[-0.55,203.45],"nice":false,"zero":false}},"y":{"field":"y","type":"quantitative"}}},
 {"data":{"values":[{"x":-0.55,"x1":13.7,"y0":0.387,"y1":0.54}]},"mark":{"type":"rect","fill":"#f6f6f6","stroke":"#bbbbbb"},"encoding":{"x2":{"field":"x1"},"y":{"field":"y0","type":"quantitative"},"y2":{"field":"y1"}}},
 {"data":{"values":[{"x":-0.44,"x1":-0.09,"y0":0.422,"y1":0.499,"s":"a"},{"x":-0.09,"x1":0.27,"y0":0.422,"y1":0.499,"s":"b"},{"x":0.27,"x1":0.62,"y0":0.422,"y1":0.499,"s":"c"}]},"mark":{"type":"rect"},"encoding":{"x2":{"field":"x1"},"y":{"field":"y0","type":"quantitative"},"y2":{"field":"y1"},"fill":{"field":"s","legend":null,"scale":{"domain":["a","b","c"],"range":["#44c85a","#111111","#e83030"]}}}},
 {"data":{"values":[{"x":0.98,"y":0.459,"t":"MACD (12 26 9)"}]},"mark":{"type":"text","align":"left","baseline":"middle","fontSize":10,"color":"#222222"},"encoding":{"y":{"field":"y","type":"quantitative"},"text":{"field":"t"}}},
 {"data":{"values":[{"x":11.1,"y":0.459}]},"mark":{"type":"point","shape":"M-0.45,0.35 L0.05,-0.15 C0,-0.35 0.15,-0.5 0.35,-0.45 L0.2,-0.3 L0.3,-0.15 L0.45,-0.25 C0.5,-0.05 0.3,0.1 0.1,0.05 L-0.35,0.45 Z","size":350,"stroke":"#888888","strokeWidth":1,"filled":false},"encoding":{"y":{"field":"y","type":"quantitative"}}},
 {"data":{"values":[{"x":12.6,"y":0.459}]},"mark":{"type":"point","shape":"cross","size":70,"fill":"#777777","stroke":null,"filled":true},"encoding":{"y":{"field":"y","type":"quantitative"}}},
 {"data":{"values":[{"x":204.2,"x1":208.1,"y0":0.181,"y1":0.252}]},"mark":{"type":"rect","fill":"#ffffff","stroke":"#bbbbbb","strokeWidth":1.5},"encoding":{"x2":{"field":"x1"},"y":{"field":"y0","type":"quantitative"},"y2":{"field":"y1"}}},
 {"data":{"values":[{"x":206.15,"y":0.232,"t":"0,1487"}]},"mark":{"type":"text","align":"center","baseline":"middle","fontSize":10,"color":"#ee3333"},"encoding":{"y":{"field":"y","type":"quantitative"},"text":{"field":"t"}}},
 {"data":{"values":[{"x":204.2,"x1":208.1,"y0":0.088,"y1":0.181}]},"mark":{"type":"rect","fill":"#ffffff","stroke":"#bbbbbb","strokeWidth":1.5},"encoding":{"x2":{"field":"x1"},"y":{"field":"y0","type":"quantitative"},"y2":{"field":"y1"}}},
 {"data":{"values":[{"x":206.15,"y":0.1345,"t":"0,1285"}]},"mark":{"type":"text","align":"center","baseline":"middle","fontSize":10,"color":"#333333"},"encoding":{"y":{"field":"y","type":"quantitative"},"text":{"field":"t"}}},
 {"data":{"values":[{"x":204.2,"x1":208.1,"y0":-0.036,"y1":0.054}]},"mark":{"type":"rect","fill":"#ffffff","stroke":"#bbbbbb","strokeWidth":1.5},"encoding":{"x2":{"field":"x1"},"y":{"field":"y0","type":"quantitative"},"y2":{"field":"y1"}}},
 {"data":{"values":[{"x":206.15,"y":0.009,"t":"0,0122"}]},"mark":{"type":"text","align":"center","baseline":"middle","fontSize":10,"color":"#44c84c"},"encoding":{"y":{"field":"y","type":"quantitative"},"text":{"field":"t"}}}
]},
{"width":1732,"height":53,"encoding":{"x":{"field":"x","type":"quantitative","scale":{"domain":[-0.55,203.45],"nice":false,"zero":false}}},"layer":[
 {"data":{"name":"bars"},"mark":{"type":"bar","size":6,"fill":"#1010ee","stroke":"#0a0aa8","strokeWidth":1},"encoding":{"x":{"field":"i","type":"quantitative","scale":{"domain":[-0.55,203.45],"nice":false,"zero":false},"axis":{"title":null,"orient":"bottom","tickCount":100,"values":[4,10,14,18,22,25,30,34,38,42,45,50,54,58,62,67,70,74,78,82,87,90,94,98,102,107,110,114,118,122,126,129,134,138,142,146,152,158,162,166,170,173,178,182,186,190,195,198,202],"labelFontSize":11,"labelPadding":2,"labelExpr":"{4:'2026',10:'12',14:'16',18:'22',22:'28',25:'feb',30:'09',34:'13',38:'19',42:'25',45:'mar',50:'09',54:'13',58:'19',62:'25',67:'abr',70:'08',74:'14',78:'20',82:'24',87:'may',90:'07',94:'13',98:'19',102:'25',107:'jun',110:'04',114:'10',118:'16',122:'22',126:'26',129:'jul',134:'08',138:'14',142:'20',146:'24',152:'ago',158:'11',162:'17',166:'21',170:'27',173:'sept',178:'08',182:'14',186:'18',190:'24',195:'oct',198:'06',202:'12'}[datum.value]","labelFontWeight":{"condition":{"test":"indexof([4,25,45,67,87,107,129,152,173,195],datum.value)>=0","value":"bold"},"value":"normal"}}},"y":{"field":"v","type":"quantitative","scale":{"domain":[0,72.2],"nice":false},"axis":{"title":null,"orient":"right","tickCount":100,"values":[50],"labelExpr":"datum.value+'M'"}},"y2":{"datum":0}}},
 {"data":{"values":[{"x":-0.55,"x1":9.6,"y0":47.7,"y1":72.2}]},"mark":{"type":"rect","fill":"#f6f6f6","stroke":"#bbbbbb"},"encoding":{"x2":{"field":"x1"},"y":{"field":"y0","type":"quantitative"},"y2":{"field":"y1"}}},
 {"data":{"values":[{"x":-0.44,"x1":0.62,"y0":54.5,"y1":66.7}]},"mark":{"type":"rect","fill":"#1010ee"},"encoding":{"x2":{"field":"x1"},"y":{"field":"y0","type":"quantitative"},"y2":{"field":"y1"}}},
 {"data":{"values":[{"x":0.98,"y":59.9,"t":"Volumen"}]},"mark":{"type":"text","align":"left","baseline":"middle","fontSize":10,"color":"#222222"},"encoding":{"y":{"field":"y","type":"quantitative"},"text":{"field":"t"}}},
 {"data":{"values":[{"x":7.0,"y":59.9}]},"mark":{"type":"point","shape":"M-0.45,0.35 L0.05,-0.15 C0,-0.35 0.15,-0.5 0.35,-0.45 L0.2,-0.3 L0.3,-0.15 L0.45,-0.25 C0.5,-0.05 0.3,0.1 0.1,0.05 L-0.35,0.45 Z","size":350,"stroke":"#888888","strokeWidth":1,"filled":false},"encoding":{"y":{"field":"y","type":"quantitative"}}},
 {"data":{"values":[{"x":8.5,"y":59.9}]},"mark":{"type":"point","shape":"cross","size":70,"fill":"#777777","stroke":null,"filled":true},"encoding":{"y":{"field":"y","type":"quantitative"}}},
 {"data":{"values":[{"x":204.2,"x1":208.1,"y0":2.3,"y1":20.4}]},"mark":{"type":"rect","fill":"#ffffff","stroke":"#bbbbbb","strokeWidth":1.5},"encoding":{"x2":{"field":"x1"},"y":{"field":"y0","type":"quantitative"},"y2":{"field":"y1"}}},
 {"data":{"values":[{"x":206.15,"y":11.3,"t":"140.16."}]},"mark":{"type":"text","align":"center","baseline":"middle","fontSize":10,"color":"#2222dd"},"encoding":{"y":{"field":"y","type":"quantitative"},"text":{"field":"t"}}}
]}
]}
